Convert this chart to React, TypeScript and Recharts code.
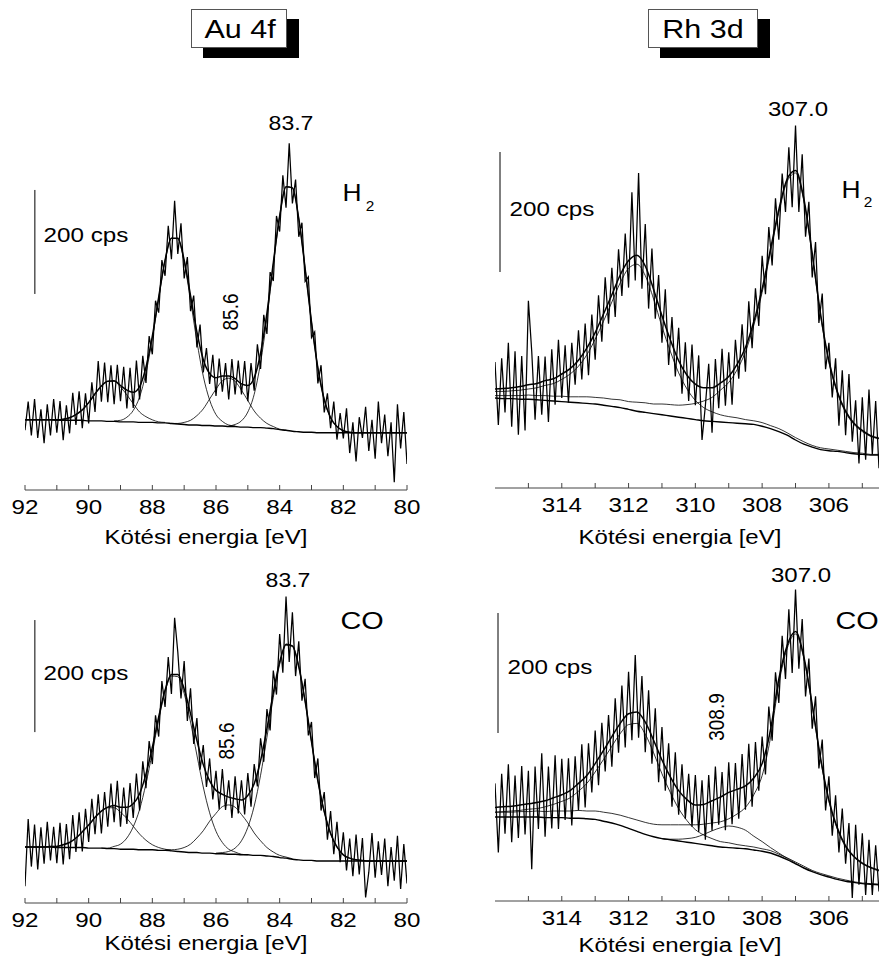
import React from 'react';
import { LineChart, Line, XAxis, YAxis } from 'recharts';

// ---- Au 4f, H2 treated (counts, offset scale) ----
// measured spectrum, every 0.1 eV from 80.0 eV
const auH2Raw = [
  50, 150, 80, 165, 15, 130, 65, 145, 90, 170,
  60, 135, 75, 160, 100, 140, 55, 130, 71, 157,
  99, 148, 97, 170, 119, 186, 149, 240, 205, 304,
  293, 410, 401, 514, 487, 597, 551, 667, 543, 605,
  497, 527, 402, 419, 300, 337, 233, 280, 191, 244,
  171, 248, 184, 249, 184, 252, 174, 244, 189, 253,
  181, 260, 204, 273, 226, 318, 274, 374, 344, 448,
  407, 513, 454, 556, 444, 508, 412, 442, 341, 364,
  261, 296, 206, 258, 174, 249, 158, 235, 157, 237,
  171, 241, 165, 240, 169, 245, 170, 248, 150, 207,
  128, 186, 119, 190, 125, 187, 109, 163, 96, 171,
  110, 175, 105, 165, 90, 155, 100, 175, 105, 170,
  115,
];
// fit envelope and background, every 0.2 eV from 80.0 eV
const auH2Fit = [
  110, 110, 110, 110, 110, 110, 110, 110, 110,
  111, 114, 122, 139, 174, 235, 323, 426, 522, 581,
  583, 527, 437, 340, 263, 216, 201, 204, 214, 219,
  219, 216, 224, 251, 304, 374, 442, 484, 484, 442,
  371, 296, 236, 199, 188, 192, 201, 210, 209, 200,
  185, 168, 154, 145, 139, 136, 135,
  135, 135, 135, 135, 135,
];
const auH2Bg = [
  110, 110, 110, 110, 110, 110, 110, 110, 110, 110, 110, 110, 110, 110, 110,
  111, 111, 112, 113, 115, 116, 118, 119, 120, 120, 121, 121, 122, 122, 123,
  123, 124, 124, 125, 125, 126, 127, 128, 129, 129, 130, 130, 130, 131, 131,
  131, 132, 132, 133, 133, 133, 134, 134, 134, 134, 134, 135, 135, 135, 135, 135,
];
// fitted components (background included), every 0.2 eV
const auH2Peak837 = [111, 114, 122, 139, 174, 235, 323, 426, 522, 581, 583, 526, 433, 331, 245, 184, 150, 133, 126, 123]; // from 81.8
const auH2Peak873 = [123, 125, 132, 145, 173, 219, 286, 365, 438, 483, 484, 441, 369, 291, 225, 179, 153, 140, 134, 133]; // from 85.4
const auH2Peak893 = [130, 131, 135, 141, 150, 166, 183, 198, 209, 209, 200, 185, 168, 154, 145, 139, 136, 135]; // from 87.6
const auH2Peak856 = [115, 117, 122, 128, 138, 152, 172, 192, 209, 215, 210, 194, 175, 156, 143, 134, 130, 128, 128]; // from 83.8

// ---- Au 4f, CO treated ----
const auCORaw = [
  35, 105, 25, 120, 40, 100, 30, 115, 50, 110,
  45, 125, 55, 10, 116, 51, 122, 48, 115, 58,
  126, 73, 145, 87, 164, 113, 198, 165, 258, 223,
  323, 299, 400, 361, 467, 405, 519, 430, 547, 411,
  480, 372, 415, 308, 346, 252, 294, 208, 248, 172,
  232, 158, 219, 160, 226, 152, 219, 166, 239, 167,
  236, 185, 258, 207, 282, 238, 330, 284, 383, 325,
  432, 365, 448, 509, 373, 439, 350, 396, 297, 335,
  248, 289, 205, 253, 165, 231, 152, 214, 141, 206,
  136, 218, 144, 213, 136, 198, 124, 194, 123, 186,
  109, 168, 92, 162, 91, 157, 78, 141, 69, 143,
  71, 136, 76, 145, 70, 135, 60, 140, 65, 150,
  30,
];
const auCOFit = [
  75, 75, 75, 75, 75, 75, 75,
  76, 77, 80, 86, 100, 124, 163, 218, 288, 360,
  422, 459, 462, 430, 375, 311, 254, 213, 192, 184,
  186, 189, 194, 201, 218, 247, 290, 338, 382, 408,
  408, 380, 332, 278, 230, 195, 177, 171, 171, 174,
  171, 164, 153, 139, 127, 116, 108, 104, 101, 101,
  100, 100, 100, 100,
];
const auCOBg = [
  75, 75, 75, 75, 75, 75, 75, 75, 75, 75, 75, 75, 75, 75, 75,
  76, 76, 77, 78, 80, 81, 83, 84, 85, 85, 86, 86, 87, 87, 88,
  88, 89, 89, 90, 90, 91, 92, 93, 94, 94, 95, 95, 95, 96, 96,
  96, 97, 97, 98, 98, 98, 99, 99, 99, 99, 99, 100, 100, 100, 100, 100,
];
const auCOPeak837 = [76, 77, 80, 86, 100, 124, 163, 218, 288, 360, 422, 458, 460, 426, 367, 296, 228, 173, 135, 111, 98, 92, 90, 89]; // from 81.4
const auCOPeak873 = [86, 87, 91, 96, 108, 128, 161, 207, 264, 323, 374, 404, 405, 377, 327, 269, 213, 167, 136, 116, 105, 101, 98, 98]; // from 85.0
const auCOPeak893 = [94, 96, 99, 104, 112, 123, 137, 151, 162, 170, 170, 164, 153, 139, 127, 116, 108, 104, 101, 101]; // from 87.4
const auCOPeak856 = [79, 82, 85, 91, 99, 111, 125, 143, 158, 171, 175, 172, 160, 146, 129, 116, 105, 99, 96, 95, 95]; // from 83.6

// ---- Rh 3d, H2 treated: raw every 0.1 eV from 304.5, fit every 0.25 eV from 304.5 ----
const rhH2Raw = [
  33, 145, 56, 164, 47, 151, 41, 146, 77, 190,
  88, 196, 104, 216, 151, 242, 198, 324, 275, 410,
  351, 477, 419, 556, 460, 604, 468, 568, 460, 524,
  414, 483, 371, 435, 323, 387, 270, 333, 233, 311,
  194, 273, 182, 247, 139, 226, 137, 232, 133, 215,
  92, 207, 137, 80, 221, 138, 239, 145, 243, 157,
  267, 186, 285, 205, 331, 242, 355, 282, 399, 299,
  440, 332, 525, 346, 493, 334, 424, 320, 398, 285,
  367, 274, 351, 244, 321, 214, 289, 188, 274, 181,
  263, 172, 242, 142, 238, 150, 247, 139, 231, 110,
  219, 122, 220, 114, 228, 312, 96, 220, 89, 228,
  102, 242, 126, 216, 105, 210,
];
const rhH2Fit = [
  83, 87, 96, 108, 128, 161, 212, 290, 391, 482,
  529, 515, 464, 398, 332, 277, 234, 206, 186, 175,
  167, 167, 173, 188, 212, 247, 287, 331, 370, 388,
  379, 355, 322, 290, 259, 233, 213, 199, 190, 182,
  179, 174, 172, 169, 167, 166, 165,
];
const rhH2Bg = [
  55, 55, 56, 57, 59, 61, 62, 64, 68, 73,
  80, 88, 94, 99, 103, 106, 107, 108, 109, 110,
  111, 112, 114, 116, 118, 120, 122, 124, 126, 128,
  131, 134, 136, 138, 140, 141, 142, 143, 144, 145,
  146, 147, 148, 148, 149, 149, 150,
];
const rhH2Peak307 = [
  82, 86, 94, 106, 126, 159, 209, 287, 388, 478,
  525, 511, 459, 393, 326, 271, 227, 197, 176, 163,
  151, 145, 141, 139, 138, 139, 140, 140, 142, 143,
  144, 147, 148, 150, 151, 152, 152, 152, 153, 153,
  154, 154, 155, 154, 154, 154, 154,
];
const rhH2Peak3118 = [
  56, 56, 58, 59, 61, 63, 65, 67, 71, 77,
  84, 92, 99, 104, 109, 112, 114, 117, 119, 122,
  127, 134, 146, 165, 192, 228, 269, 315, 354, 373,
  366, 342, 310, 278, 248, 222, 203, 190, 181, 174,
  171, 167, 165, 163, 162, 161, 161,
];

// ---- Rh 3d, CO treated ----
const rhCORaw = [
  16, 93, 10, 102, 10, 113, 27, 127, 5, 130,
  62, 154, 81, 176, 109, 208, 151, 269, 221, 341,
  287, 404, 341, 470, 387, 519, 380, 486, 370, 442,
  330, 381, 267, 324, 211, 274, 184, 265, 157, 262,
  152, 245, 137, 230, 128, 231, 118, 215, 127, 224,
  117, 210, 102, 201, 115, 210, 124, 212, 137, 228,
  144, 248, 157, 263, 184, 290, 198, 321, 229, 351,
  248, 375, 272, 410, 268, 382, 256, 359, 247, 338,
  224, 310, 216, 297, 193, 284, 181, 263, 156, 261,
  151, 241, 126, 238, 135, 237, 120, 243, 121, 224,
  107, 246, 120, 224, 53, 217, 111, 225, 105, 209,
  98, 228, 112, 212, 81, 196,
];
const rhCOFit = [
  51, 56, 63, 74, 92, 122, 168, 238, 327, 407,
  449, 426, 370, 285, 229, 205, 192, 186, 181, 173,
  167, 161, 160, 169, 184, 207, 235, 268, 298, 315,
  312, 296, 274, 251, 229, 209, 196, 184, 177, 172,
  167, 164, 162, 160, 158, 157, 156,
];
const rhCOBg = [
  27, 28, 29, 31, 33, 36, 40, 44, 49, 55,
  62, 69, 75, 80, 83, 85, 87, 88, 89, 90,
  92, 94, 96, 98, 100, 102, 104, 107, 111, 116,
  121, 126, 130, 133, 136, 137, 138, 138, 139, 139,
  139, 140, 140, 140, 140, 140, 140,
];
const rhCOPeak307 = [
  50, 55, 62, 73, 90, 120, 166, 236, 325, 404,
  445, 421, 362, 272, 209, 177, 156, 145, 137, 132,
  130, 128, 127, 127, 127, 127, 127, 128, 131, 135,
  139, 143, 146, 148, 150, 150, 151, 150, 150, 150,
  149, 150, 149, 149, 148, 148, 148,
];
const rhCOPeak3118 = [
  28, 29, 30, 32, 35, 38, 42, 46, 51, 58,
  65, 72, 78, 84, 87, 90, 92, 94, 97, 99,
  104, 110, 119, 134, 154, 181, 212, 247, 278, 296,
  294, 279, 258, 236, 215, 196, 183, 172, 166, 161,
  157, 154, 153, 151, 150, 149, 148,
];
const rhCOPeak3089 = [55, 63, 71, 80, 89, 99, 108, 118, 123, 125, 122, 117, 111, 106, 104, 103, 103, 104]; // from 306.75

const auTicks = [80, 81, 82, 83, 84, 85, 86, 87, 88, 89, 90, 91, 92];
const rhTicks = [305, 306, 307, 308, 309, 310, 311, 312, 313, 314, 315];

const FONT = '"Liberation Sans", Arial, Helvetica, sans-serif';

const pts = (start: number, step: number, vals: number[]) =>
  vals.map((v, i) => ({ e: Math.round((start + i * step) * 100) / 100, v }));

function AxisTick(props: any) {
  const { x, y, payload } = props;
  const val = payload.value;
  return (
    <g>
      <line x1={x} x2={x} y1={y} y2={y - 5} stroke="#444" strokeWidth={1} />
      {val % 2 === 0 && (
        <text
          x={x}
          y={y + 24}
          textAnchor="middle"
          fontSize={21}
          fontFamily={FONT}
          fill="#000"
          transform={`translate(${x} 0) scale(1.15 1) translate(${-x} 0)`}
        >
          {val}
        </text>
      )}
    </g>
  );
}

function Panel(p: any) {
  const thin = { stroke: '#000', dot: false, activeDot: false, isAnimationActive: false, dataKey: 'v' };
  return (
    <div style={{ position: 'absolute', left: p.left, top: p.top }}>
      <LineChart width={p.w} height={p.h} margin={p.margin}>
        <XAxis
          type="number"
          dataKey="e"
          domain={p.xDomain}
          reversed
          ticks={p.ticks}
          interval={0}
          allowDataOverflow
          height={p.axisH}
          tickLine={false}
          tickSize={0}
          tickMargin={0}
          axisLine={{ stroke: '#444', strokeWidth: 1 }}
          tick={(t: any) => <AxisTick {...t} />}
        />
        <YAxis hide type="number" domain={[0, p.yMax]} allowDataOverflow />
        <Line {...thin} data={p.bg} type="monotone" strokeWidth={1.4} />
        {p.parts.map((d: any, i: number) => (
          <Line key={i} {...thin} data={d} type="monotone" strokeWidth={0.8} />
        ))}
        <Line {...thin} data={p.raw} type="linear" strokeWidth={1.25} />
        <Line {...thin} data={p.fit} type="monotone" strokeWidth={1.5} />
        <Line {...thin} data={p.bar} type="linear" strokeWidth={1} />
      </LineChart>
    </div>
  );
}

function Txt({ x, y, size, sx = 1.2, rot = 0, children }: any) {
  return (
    <div
      style={{
        position: 'absolute',
        left: x,
        top: y,
        fontSize: size,
        lineHeight: 1,
        whiteSpace: 'nowrap',
        fontFamily: FONT,
        color: '#000',
        transform: `translate(-50%, -50%) scaleX(${sx}) rotate(${rot}deg)`,
      }}
    >
      {children}
    </div>
  );
}

function TitleBox({ left, top, w, h, cx, label }: any) {
  return (
    <>
      <div style={{ position: 'absolute', left: left + 12, top: top + 10, width: w, height: h, background: '#000' }} />
      <div style={{ position: 'absolute', left, top, width: w, height: h, background: '#fff', border: '1px solid #555', boxSizing: 'border-box' }} />
      <Txt x={cx} y={top + 20} size={25} sx={1.22}>{label}</Txt>
    </>
  );
}

export default function App() {
  return (
    <div style={{ position: 'absolute', left: 0, top: 0, width: 879, height: 963, overflow: 'hidden', background: '#fff' }}>
      <Panel
        left={0} top={0} w={440} h={560}
        margin={{ top: 100, right: 33, bottom: 0, left: 25 }} axisH={70}
        xDomain={[80, 92]} ticks={auTicks} yMax={750}
        raw={pts(80, 0.1, auH2Raw)} fit={pts(80, 0.2, auH2Fit)} bg={pts(80, 0.2, auH2Bg)}
        parts={[pts(81.8, 0.2, auH2Peak837), pts(85.4, 0.2, auH2Peak873), pts(87.6, 0.2, auH2Peak893), pts(83.8, 0.2, auH2Peak856)]}
        bar={[{ e: 91.69, v: 377 }, { e: 91.69, v: 577 }]}
      />
      <Panel
        left={0} top={540} w={440} h={423}
        margin={{ top: 10, right: 33, bottom: 0, left: 25 }} axisH={60}
        xDomain={[80, 92]} ticks={auTicks} yMax={630}
        raw={pts(80, 0.1, auCORaw)} fit={pts(80, 0.2, auCOFit)} bg={pts(80, 0.2, auCOBg)}
        parts={[pts(81.4, 0.2, auCOPeak837), pts(85.0, 0.2, auCOPeak873), pts(87.4, 0.2, auCOPeak893), pts(83.6, 0.2, auCOPeak856)]}
        bar={[{ e: 91.69, v: 305 }, { e: 91.69, v: 505 }]}
      />
      <Panel
        left={440} top={0} w={439} h={560}
        margin={{ top: 98, right: 0, bottom: 0, left: 55 }} axisH={72}
        xDomain={[304.5, 316]} ticks={rhTicks} yMax={650}
        raw={pts(304.5, 0.1, rhH2Raw)} fit={pts(304.5, 0.25, rhH2Fit)} bg={pts(304.5, 0.25, rhH2Bg)}
        parts={[pts(304.5, 0.25, rhH2Peak307), pts(304.5, 0.25, rhH2Peak3118)]}
        bar={[{ e: 315.85, v: 360 }, { e: 315.85, v: 560 }]}
      />
      <Panel
        left={440} top={540} w={439} h={423}
        margin={{ top: 1, right: 0, bottom: 0, left: 55 }} axisH={62}
        xDomain={[304.5, 316]} ticks={rhTicks} yMax={600}
        raw={pts(304.5, 0.1, rhCORaw)} fit={pts(304.5, 0.25, rhCOFit)} bg={pts(304.5, 0.25, rhCOBg)}
        parts={[pts(304.5, 0.25, rhCOPeak307), pts(304.5, 0.25, rhCOPeak3118), pts(306.75, 0.25, rhCOPeak3089)]}
        bar={[{ e: 315.91, v: 280 }, { e: 315.91, v: 480 }]}
      />

      <TitleBox left={191} top={9} w={96} h={39} cx={240} label="Au 4f" />
      <TitleBox left={648} top={9} w={110} h={39} cx={703} label="Rh 3d" />

      <Txt x={291} y={123} size={20} sx={1.15}>83.7</Txt>
      <Txt x={352} y={193} size={24} sx={1.1}>H</Txt>
      <Txt x={370} y={206} size={14} sx={1.1}>2</Txt>
      <Txt x={86} y={235} size={20} sx={1.21}>200 cps</Txt>
      <Txt x={230} y={312} size={19} sx={1.2} rot={-90}>85.6</Txt>
      <Txt x={206} y={537} size={20} sx={1.2}>Kötési energia [eV]</Txt>

      <Txt x={288} y={580} size={20} sx={1.15}>83.7</Txt>
      <Txt x={362} y={621} size={24} sx={1.2}>CO</Txt>
      <Txt x={86} y={673} size={20} sx={1.21}>200 cps</Txt>
      <Txt x={226} y={741} size={19} sx={1.2} rot={-90}>85.6</Txt>
      <Txt x={206} y={943} size={20} sx={1.2}>Kötési energia [eV]</Txt>

      <Txt x={798} y={109} size={20} sx={1.2}>307.0</Txt>
      <Txt x={851} y={190} size={24} sx={1.1}>H</Txt>
      <Txt x={868} y={202} size={14} sx={1.1}>2</Txt>
      <Txt x={552} y={209} size={20} sx={1.21}>200 cps</Txt>
      <Txt x={680} y={537} size={20} sx={1.2}>Kötési energia [eV]</Txt>

      <Txt x={801} y={575} size={20} sx={1.2}>307.0</Txt>
      <Txt x={857} y={621} size={24} sx={1.2}>CO</Txt>
      <Txt x={550} y={667} size={20} sx={1.21}>200 cps</Txt>
      <Txt x={716} y={717} size={19} sx={1.2} rot={-90}>308.9</Txt>
      <Txt x={680} y={945} size={20} sx={1.2}>Kötési energia [eV]</Txt>
    </div>
  );
}
